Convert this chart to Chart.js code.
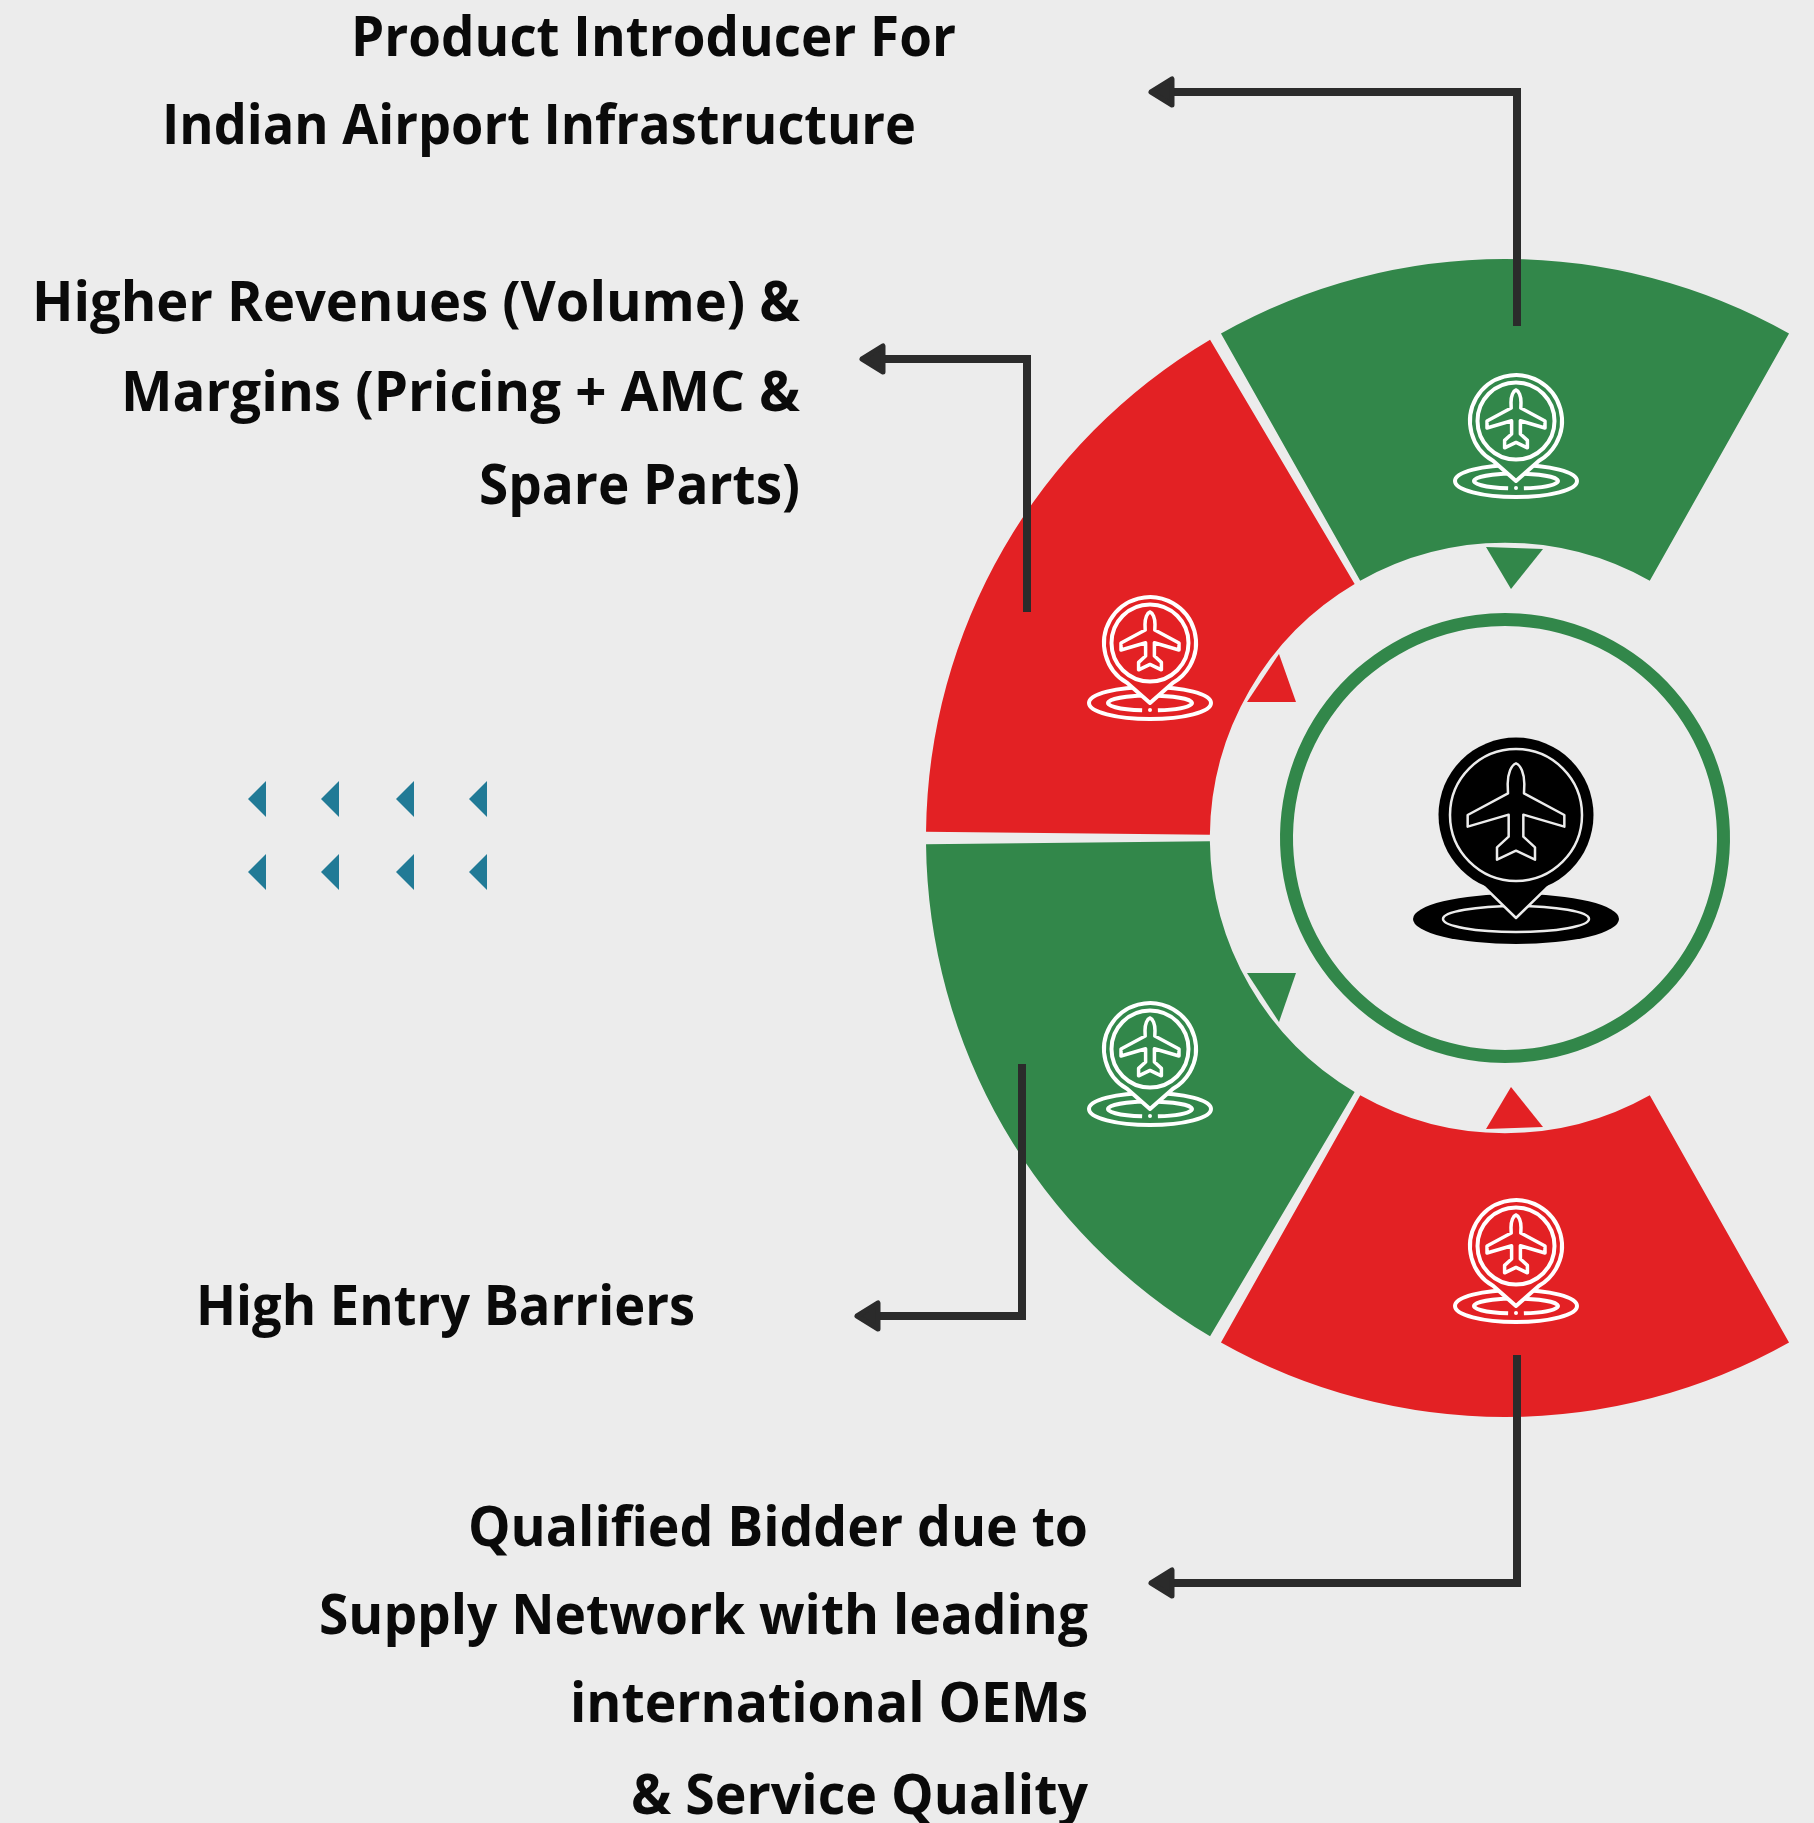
<!DOCTYPE html>
<html>
<head>
<meta charset="utf-8">
<title>Airport infrastructure</title>
<script src="https://cdn.jsdelivr.net/npm/chart.js@4/dist/chart.umd.min.js"></script>
<style>
  html, body { margin: 0; padding: 0; background: #ececec; }
  canvas { display: block; }
</style>
</head>
<body>
<canvas id="wheel" width="1814" height="1823"></canvas>
<script>
// wheel sectors, clockwise from the top one (the open side is empty)
const sectorNames = ['Product Introducer', 'open', 'Qualified Bidder', 'High Entry Barriers', 'Higher Revenues'];
const sectorValues = [60, 120, 60, 60, 60];
const GREEN = '#32874a';
const RED = '#e32124';
const BG = '#ececec';
const sectorColors = [GREEN, 'rgba(0,0,0,0)', RED, GREEN, RED];

const WHEEL_X = 1505;
const WHEEL_Y = 838;
const WHEEL_R = 579;

const labelLines = [
    'Product Introducer For',
    'Indian Airport Infrastructure',
    'Higher Revenues (Volume) &',
    'Margins (Pricing + AMC &',
    'Spare Parts)',
    'High Entry Barriers',
    'Qualified Bidder due to',
    'Supply Network with leading',
    'international OEMs',
    '& Service Quality'
];
// left, right, baseline of each line
const labelBoxes = [
    [351, 956, 56], [162, 916, 144],
    [32, 800, 321], [121, 800, 411], [479, 800, 504],
    [196, 695, 1325],
    [468, 1088, 1546], [319, 1088, 1634], [570, 1088, 1722], [631, 1088, 1814]
];

// x, y of the elbow lines, last point is the arrow base
const connectors = [
    [[1517, 326], [1517, 92], [1172, 92]],
    [[1027, 612], [1027, 359], [883, 359]],
    [[1022, 1064], [1022, 1316], [878, 1316]],
    [[1517, 1355], [1517, 1583], [1172, 1583]]
];

const triangles = [
    [GREEN, [1486, 547], [1543, 549], [1511, 589]],
    [RED, [1279, 654], [1247, 702], [1296, 702]],
    [GREEN, [1247, 973], [1296, 973], [1279, 1022]],
    [RED, [1511, 1087], [1486, 1129], [1543, 1127]]
];

const smallIcons = [
    [1516, 421, GREEN],
    [1150, 643, RED],
    [1150, 1049, GREEN],
    [1516, 1246, RED]
];

const arrowTipsX = [248, 321, 396, 469];
const arrowRowsY = [799, 872];

// half of the plane outline, from the nose down to the tail notch
const planeHalf = [[25, -93], [24, -65], [145, 0], [145, 35], [22, -1], [22, 65], [57, 97], [57, 134], [0, 107]];

function planePath(ctx, s) {
    ctx.beginPath();
    ctx.moveTo(0, -155 * s / 3);
    ctx.bezierCurveTo(14 * s / 3, -150 * s / 3, 25 * s / 3, -125 * s / 3, 25 * s / 3, -93 * s / 3);
    planeHalf.slice(1).forEach(p => ctx.lineTo(p[0] * s / 3, p[1] * s / 3));
    planeHalf.slice(1, -1).reverse().forEach(p => ctx.lineTo(-p[0] * s / 3, p[1] * s / 3));
    ctx.lineTo(-25 * s / 3, -93 * s / 3);
    ctx.bezierCurveTo(-25 * s / 3, -125 * s / 3, -14 * s / 3, -150 * s / 3, 0, -155 * s / 3);
    ctx.closePath();
}

function pinPath(ctx, r, tipY) {
    ctx.beginPath();
    ctx.arc(0, 0, r, Math.PI * 2 / 3, Math.PI / 3);
    ctx.lineTo(0, tipY);
    ctx.closePath();
}

function drawSmallIcon(ctx, x, y, color) {
    ctx.save();
    ctx.translate(x, y);
    ctx.strokeStyle = '#fff';
    ctx.lineJoin = 'round';
    ctx.lineWidth = 4;
    ctx.beginPath();
    ctx.ellipse(0, 60, 61, 16, 0, 0, Math.PI * 2);
    ctx.stroke();
    ctx.beginPath();
    ctx.ellipse(0, 60, 42, 7.5, 0, Math.PI * 0.56, Math.PI * 0.44);
    ctx.stroke();
    ctx.fillStyle = '#fff';
    ctx.beginPath();
    ctx.arc(0, 67, 2, 0, Math.PI * 2);
    ctx.fill();
    pinPath(ctx, 46, 60);
    ctx.fillStyle = color;
    ctx.fill();
    ctx.stroke();
    ctx.beginPath();
    ctx.arc(0, 0, 38.5, 0, Math.PI * 2);
    ctx.stroke();
    ctx.lineWidth = 3.5;
    planePath(ctx, 0.6);
    ctx.stroke();
    ctx.restore();
}

function drawBigIcon(ctx, x, y) {
    ctx.save();
    ctx.translate(x, y);
    ctx.fillStyle = '#000';
    ctx.beginPath();
    ctx.ellipse(0, 104, 103, 25, 0, 0, Math.PI * 2);
    ctx.fill();
    ctx.strokeStyle = BG;
    ctx.lineWidth = 2.5;
    ctx.beginPath();
    ctx.ellipse(0, 104, 73, 13, 0, 0, Math.PI * 2);
    ctx.stroke();
    ctx.lineJoin = 'round';
    pinPath(ctx, 76, 103);
    ctx.fill();
    ctx.stroke();
    // the circle edge of the pin has no outline
    ctx.beginPath();
    ctx.arc(0, 0, 77.5, 0, Math.PI * 2);
    ctx.fill();
    ctx.beginPath();
    ctx.arc(0, 0, 66, 0, Math.PI * 2);
    ctx.stroke();
    planePath(ctx, 1);
    ctx.stroke();
    ctx.restore();
}

// the wheel runs past the right edge of the page, so set its box by hand
const wheelBox = {
    id: 'wheelBox',
    afterLayout(chart) {
        const area = chart.chartArea;
        area.left = WHEEL_X - WHEEL_R;
        area.right = WHEEL_X + WHEEL_R;
        area.top = WHEEL_Y - WHEEL_R;
        area.bottom = WHEEL_Y + WHEEL_R;
        area.width = WHEEL_R * 2;
        area.height = WHEEL_R * 2;
    }
};

const wheelDecor = {
    id: 'wheelDecor',
    afterDraw(chart) {
        const ctx = chart.ctx;
        ctx.save();

        triangles.forEach(t => {
            ctx.fillStyle = t[0];
            ctx.beginPath();
            ctx.moveTo(t[1][0], t[1][1]);
            ctx.lineTo(t[2][0], t[2][1]);
            ctx.lineTo(t[3][0], t[3][1]);
            ctx.closePath();
            ctx.fill();
        });

        smallIcons.forEach(i => drawSmallIcon(ctx, i[0], i[1], i[2]));
        drawBigIcon(ctx, 1516, 815);

        // elbow lines with their arrow heads
        connectors.forEach(c => {
            ctx.strokeStyle = '#2b2b2b';
            ctx.fillStyle = '#2b2b2b';
            ctx.lineWidth = 8;
            ctx.lineJoin = 'miter';
            ctx.beginPath();
            ctx.moveTo(c[0][0], c[0][1]);
            ctx.lineTo(c[1][0], c[1][1]);
            ctx.lineTo(c[2][0], c[2][1]);
            ctx.stroke();
            const bx = c[2][0], by = c[2][1];
            ctx.lineWidth = 5;
            ctx.lineJoin = 'round';
            ctx.beginPath();
            ctx.moveTo(bx - 21, by);
            ctx.lineTo(bx, by - 13);
            ctx.lineTo(bx, by + 13);
            ctx.closePath();
            ctx.fill();
            ctx.stroke();
        });

        ctx.fillStyle = '#217a96';
        arrowRowsY.forEach(y => arrowTipsX.forEach(x => {
            ctx.beginPath();
            ctx.moveTo(x, y);
            ctx.lineTo(x + 18, y - 18);
            ctx.lineTo(x + 18, y + 18);
            ctx.closePath();
            ctx.fill();
        }));

        ctx.fillStyle = '#0a0a0a';
        ctx.font = '700 56px "Open Sans"';
        ctx.textAlign = 'left';
        ctx.textBaseline = 'alphabetic';
        labelLines.forEach((line, i) => {
            const b = labelBoxes[i];
            ctx.fillText(line, b[0], b[2], b[1] - b[0]);
        });
        ctx.restore();
    }
};

new Chart(document.getElementById('wheel').getContext('2d'), {
    type: 'doughnut',
    data: {
        labels: sectorNames,
        datasets: [
            { data: sectorValues, backgroundColor: sectorColors, spacing: 18, borderWidth: 0, weight: 291 },
            { data: [360], backgroundColor: 'rgba(0,0,0,0)', spacing: 0, borderWidth: 0, weight: 63 },
            { data: [360], backgroundColor: GREEN, spacing: 0, borderWidth: 0, weight: 13 }
        ]
    },
    options: {
        responsive: false,
        animation: false,
        rotation: -30,
        cutout: 212,
        plugins: { legend: { display: false }, tooltip: { enabled: false } }
    },
    plugins: [wheelBox, wheelDecor]
});
</script>
</body>
</html>
